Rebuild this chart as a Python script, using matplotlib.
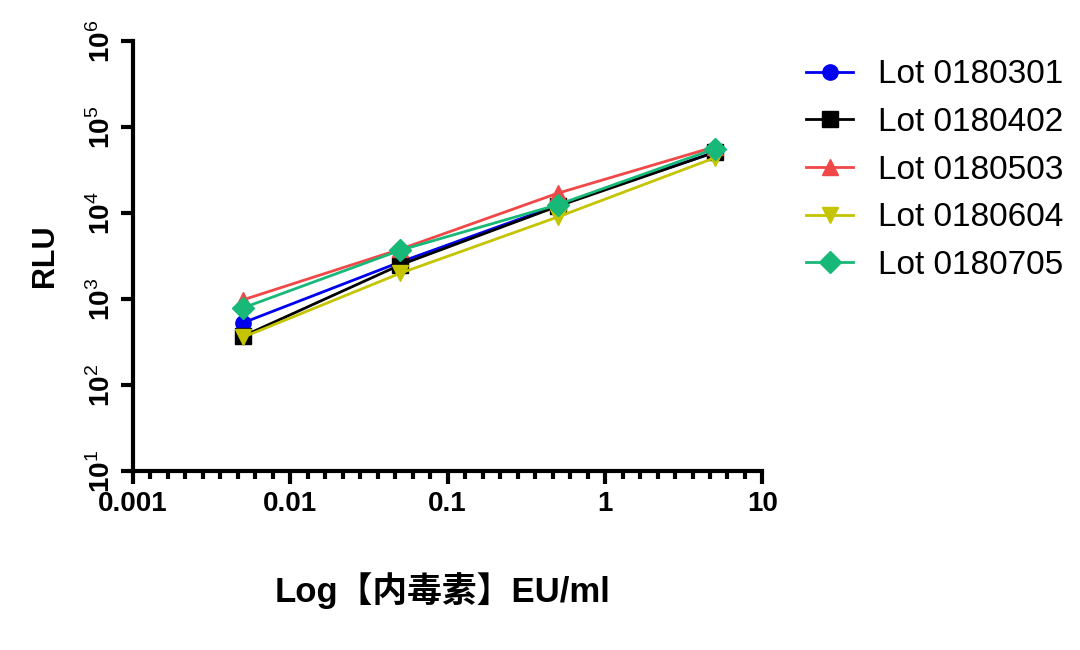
import numpy as np
import matplotlib.pyplot as plt
from matplotlib.ticker import FixedLocator, NullFormatter

plt.rcParams['font.family'] = ['Liberation Sans', 'Noto Sans CJK SC', 'DejaVu Sans']
plt.rcParams['mathtext.fontset'] = 'custom'
plt.rcParams['mathtext.rm'] = 'Liberation Sans'
plt.rcParams['mathtext.bf'] = 'Liberation Sans:bold'

conc = [0.005, 0.05, 0.5, 5]
lot_names = ['Lot 0180301', 'Lot 0180402', 'Lot 0180503', 'Lot 0180604', 'Lot 0180705']
rlu_0180301 = [530, 2700, 12300, 51000]
rlu_0180402 = [370, 2500, 12000, 51000]
rlu_0180503 = [980, 3800, 17000, 59000]
rlu_0180604 = [360, 2000, 9000, 44000]
rlu_0180705 = [790, 3700, 12500, 56000]

x_ticks = [0.001, 0.01, 0.1, 1, 10]
x_ticklabels = ['0.001', '0.01', '0.1', '1', '10']
y_exps = [1, 2, 3, 4, 5, 6]

series = [rlu_0180301, rlu_0180402, rlu_0180503, rlu_0180604, rlu_0180705]
colors = ['#0000F0', '#000000', '#F04848', '#C4C400', '#18B878']
markers = ['o', 's', '^', 'v', 'D']
msizes = [11, 11, 12, 12, 11]

fig = plt.figure(figsize=(10.8, 6.5), dpi=100)
ax = fig.add_axes([0.123, 0.275, 0.583, 0.662])

for y, c, m, ms, name in zip(series, colors, markers, msizes, lot_names):
    ax.plot(conc, y, color=c, marker=m, ms=ms, lw=2, label=name)

ax.set_xscale('log')
ax.set_yscale('log')
ax.set_xlim(0.001, 10)
ax.set_ylim(10, 1e6)

ax.spines['top'].set_visible(False)
ax.spines['right'].set_visible(False)
ax.spines['left'].set_linewidth(3)
ax.spines['bottom'].set_linewidth(3)

# x ticks: majors at decades, minors evenly spaced (9 steps per decade, Prism style)
ax.xaxis.set_major_locator(FixedLocator(x_ticks))
ax.set_xticklabels(x_ticklabels, fontweight='bold', fontsize=20)
minors = [10 ** (k + j / 9) for k in range(-3, 1) for j in range(1, 9)]
ax.xaxis.set_minor_locator(FixedLocator(minors))
ax.xaxis.set_minor_formatter(NullFormatter())

ax.yaxis.set_major_locator(FixedLocator([10.0 ** e for e in y_exps]))
ax.yaxis.set_minor_locator(FixedLocator([]))
ax.set_yticklabels([r'$\mathbf{10}^{\mathrm{%d}}$' % e for e in y_exps], fontsize=20)

ax.tick_params(axis='both', which='major', direction='out', length=9, width=3)
ax.tick_params(axis='x', which='minor', direction='out', length=6, width=3)
ax.tick_params(axis='x', pad=5)
ax.tick_params(axis='y', pad=3)
for lab in ax.get_yticklabels():
    lab.set_rotation(90)
    lab.set_va('center')

ax.set_ylabel('RLU', fontsize=22, fontweight='bold', labelpad=20)
fig.text(0.41, 0.092, 'Log【内毒素】EU/ml', ha='center', va='center',
         fontsize=25, fontweight='bold')

ax.legend(loc='upper left', bbox_to_anchor=(1.022, 1.027), frameon=False,
          fontsize=24, handlelength=1.4, labelspacing=0.5, handletextpad=0.75)

plt.savefig('out.png', dpi=100)
